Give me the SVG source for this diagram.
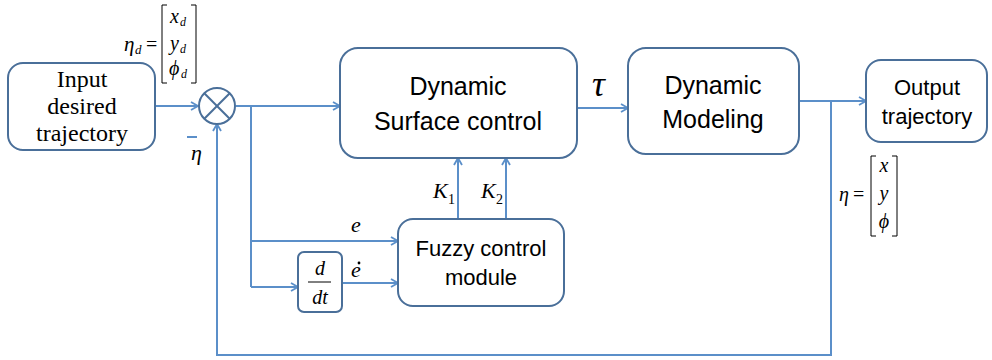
<svg xmlns="http://www.w3.org/2000/svg" width="992" height="360" viewBox="0 0 992 360">
<defs>
<marker id="arr" markerWidth="12" markerHeight="12" refX="10" refY="6" orient="auto" markerUnits="userSpaceOnUse">
<path d="M3,2 L10,6 L3,10" fill="none" stroke="#5b8fc9" stroke-width="1.8"/>
</marker>
</defs>
<style>
.box{fill:#fff;stroke:#4a6f99;stroke-width:2}
.ln{fill:none;stroke:#5b8fc9;stroke-width:2}
.ar{fill:none;stroke:#5b8fc9;stroke-width:2;marker-end:url(#arr)}
.sans{font-family:"Liberation Sans",Arial,sans-serif;fill:#000;text-anchor:middle}
.serif{font-family:"Liberation Serif","Times New Roman",serif;fill:#000;text-anchor:middle}
.mi{font-family:"Liberation Serif","Times New Roman",serif;font-style:italic;fill:#000}
.mr{font-family:"Liberation Serif","Times New Roman",serif;fill:#000}
.br{fill:none;stroke:#000;stroke-width:1}
</style>
<g id="connectors">
<line class="ar" x1="155" y1="106" x2="198" y2="106"/>
<line class="ar" x1="236" y1="106" x2="340" y2="106"/>
<polyline class="ln" points="251,106 251,287"/>
<line class="ar" x1="251" y1="241" x2="398" y2="241"/>
<line class="ar" x1="251" y1="287" x2="298" y2="287"/>
<line class="ar" x1="342" y1="283" x2="398" y2="283"/>
<line class="ar" x1="458" y1="219" x2="458" y2="158"/>
<line class="ar" x1="506" y1="219" x2="506" y2="158"/>
<line class="ar" x1="577" y1="108" x2="628" y2="108"/>
<line class="ar" x1="799" y1="101" x2="866" y2="101"/>
<polyline class="ar" points="831,101 831,355 217,355 217,124"/>
</g>
<g id="input">
<rect class="box" x="8" y="63" width="147" height="87" rx="15"/>
<text class="serif" font-size="24" x="82" y="87">Input</text>
<text class="serif" font-size="24" x="82" y="114">desired</text>
<text class="serif" font-size="24" x="82" y="141">trajectory</text>
</g>
<g id="eta-d">
<text class="mi" font-size="21" x="124" y="51">η</text>
<text class="mi" font-size="13" x="135" y="54">d</text>
<text class="mr" font-size="20" x="146" y="51">=</text>
<path class="br" d="M167,5 H162 V83 H167 M191,5 H196 V83 H191"/>
<text class="mi" font-size="20" x="170" y="23">x</text>
<text class="mi" font-size="12" x="180" y="26">d</text>
<text class="mi" font-size="20" x="170" y="50">y</text>
<text class="mi" font-size="12" x="180" y="53">d</text>
<text class="mi" font-size="20" x="169" y="75">ϕ</text>
<text class="mi" font-size="12" x="181" y="78">d</text>
</g>
<g id="sum">
<circle cx="217" cy="106" r="18" fill="#fff" stroke="#4a6f99" stroke-width="2"/>
<line x1="204.3" y1="93.3" x2="229.7" y2="118.7" stroke="#4a6f99" stroke-width="2"/>
<line x1="229.7" y1="93.3" x2="204.3" y2="118.7" stroke="#4a6f99" stroke-width="2"/>
<line x1="187" y1="137" x2="197" y2="137" stroke="#5b8fc9" stroke-width="2"/>
<text class="mi" font-size="22" x="191" y="160">η</text>
</g>
<g id="dsc">
<rect class="box" x="340" y="48" width="237" height="110" rx="18"/>
<text class="sans" font-size="25" x="458" y="95">Dynamic</text>
<text class="sans" font-size="25" x="458" y="130">Surface control</text>
</g>
<text class="mi" font-size="36" x="592" y="96">τ</text>
<g id="dm">
<rect class="box" x="628" y="48" width="171" height="106" rx="18"/>
<text class="sans" font-size="25" x="713" y="94">Dynamic</text>
<text class="sans" font-size="25" x="713" y="128">Modeling</text>
</g>
<g id="output">
<rect class="box" x="866" y="60" width="121" height="82" rx="15"/>
<text class="sans" font-size="22" x="927" y="95">Output</text>
<text class="sans" font-size="22" x="927" y="124">trajectory</text>
</g>
<g id="eta">
<text class="mi" font-size="20" x="839" y="201">η</text>
<text class="mr" font-size="20" x="853" y="201">=</text>
<path class="br" d="M876,156 H871 V236 H876 M892,156 H897 V236 H892"/>
<text class="mi" font-size="20" x="884" y="172" text-anchor="middle">x</text>
<text class="mi" font-size="20" x="884" y="200" text-anchor="middle">y</text>
<text class="mi" font-size="20" x="884" y="228" text-anchor="middle">ϕ</text>
</g>
<g id="fuzzy">
<rect class="box" x="398" y="219" width="166" height="87" rx="15"/>
<text class="sans" font-size="22" x="481" y="256">Fuzzy control</text>
<text class="sans" font-size="22" x="481" y="285">module</text>
</g>
<g id="ddt">
<rect class="box" x="298" y="252" width="44" height="60" rx="6"/>
<text class="mi" font-size="20" x="320" y="275" text-anchor="middle">d</text>
<line x1="308" y1="282" x2="331" y2="282" stroke="#000" stroke-width="1"/>
<text class="mi" font-size="20" x="320" y="304" text-anchor="middle">dt</text>
</g>
<g id="labels">
<text class="mi" font-size="22" x="433" y="198">K</text>
<text class="mr" font-size="14" x="448" y="204">1</text>
<text class="mi" font-size="22" x="481" y="198">K</text>
<text class="mr" font-size="14" x="496" y="204">2</text>
<text class="mi" font-size="22" x="351" y="232">e</text>
<text class="mi" font-size="22" x="351" y="277">e</text>
<circle cx="359" cy="263" r="1.4" fill="#000"/>
</g>
</svg>
